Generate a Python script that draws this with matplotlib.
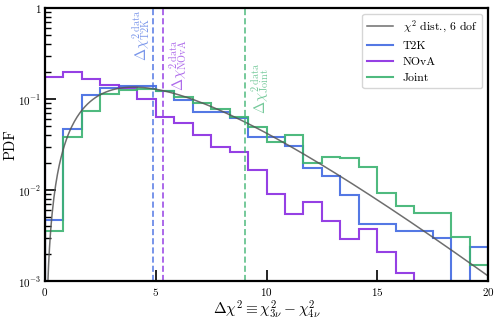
import numpy as np
import matplotlib
matplotlib.use('Agg')
import matplotlib.pyplot as plt
from math import gamma

plt.rcParams['font.family'] = 'serif'
plt.rcParams['font.serif'] = ['cmr10', 'DejaVu Serif']
plt.rcParams['mathtext.fontset'] = 'cm'
plt.rcParams['axes.formatter.use_mathtext'] = True

# 24 bins between 0 and 20
bin_edges = np.linspace(0, 20, 25)

t2k_pdf = [0.00468, 0.0474, 0.1106, 0.131, 0.1407, 0.139, 0.124, 0.0975,
           0.0725, 0.072, 0.0614, 0.0382, 0.0378, 0.0305, 0.01745, 0.01425,
           0.00881, 0.00418, 0.00418, 0.00357, 0.00357, 0.00294, 0.0, 0.00236]
nova_pdf = [0.176, 0.1965, 0.166, 0.1436, 0.131, 0.0993, 0.0639, 0.0549,
            0.0407, 0.0297, 0.026, 0.0166, 0.0091, 0.00542, 0.00742, 0.0046,
            0.0029, 0.0037, 0.00207, 0.00123, 0.0, 0.0, 0.0, 0.0]
joint_pdf = [0.00357, 0.0382, 0.0738, 0.1135, 0.127, 0.128, 0.1215, 0.1065,
             0.0897, 0.077, 0.0629, 0.0492, 0.034, 0.0402, 0.0197, 0.0232,
             0.0226, 0.0179, 0.0092, 0.00662, 0.00559, 0.00559, 0.00302, 0.00151]

# observed delta chi2 in data
data_dchi2 = {'T2K': 4.89, 'NOvA': 5.31, 'Joint': 9.03}
dof = 6

colors = {'T2K': '#4169E1', 'NOvA': '#8A2BE2', 'Joint': '#3CB371'}
hists = {'T2K': t2k_pdf, 'NOvA': nova_pdf, 'Joint': joint_pdf}

fig = plt.figure(figsize=(4.99, 3.23), dpi=100)
ax = fig.add_axes([0.0902, 0.130, 0.888, 0.845])

x = np.linspace(0.001, 20, 500)
chi2 = x**(dof / 2 - 1) * np.exp(-x / 2) / (2**(dof / 2) * gamma(dof / 2))
ax.plot(x, chi2, color='#555555', lw=1.1, alpha=0.85, label=r'$\chi^2$ dist., 6 dof')

for name in ['T2K', 'NOvA', 'Joint']:
    ax.stairs(hists[name], bin_edges, color=colors[name], lw=1.5, alpha=0.9,
              label=name)

# data lines and labels
txt_pos = {
    'T2K': (data_dchi2['T2K'] - 0.05, 0.96, 'right', 'top'),
    'NOvA': (data_dchi2['NOvA'] + 0.2, 0.45, 'left', 'top'),
    'Joint': (data_dchi2['Joint'] + 0.2, 0.25, 'left', 'top'),
}
for name in ['T2K', 'NOvA', 'Joint']:
    ax.axvline(data_dchi2[name], color=colors[name], ls=(0, (4, 2)), lw=1.1, alpha=0.9)
    tx, ty, ha, va = txt_pos[name]
    ax.text(tx, ty, r'$\Delta\chi^{2\;\mathrm{data}}_{\mathrm{%s}}$' % name,
            rotation=90, ha=ha, va=va, color=colors[name], alpha=0.7, fontsize=10.5)

ax.set_yscale('log')
ax.set_xlim(0, 20)
ax.set_ylim(1e-3, 1)
ax.set_xticks([0, 5, 10, 15, 20])
ax.set_xticklabels(['$0$', '$5$', '$10$', '$15$', '$20$'])
ax.set_yticks([1e-3, 1e-2, 1e-1, 1])
ax.set_yticklabels(['$10^{-3}$', '$10^{-2}$', '$10^{-1}$', '$1$'])

ax.tick_params(which='both', direction='in', labelsize=8)
ax.tick_params(which='major', length=8, width=1.2)
ax.tick_params(which='minor', length=4.5, width=1.0)
ax.tick_params(axis='y', pad=2.5)
ax.minorticks_on()
ax.xaxis.set_minor_locator(matplotlib.ticker.NullLocator())
for sp in ax.spines.values():
    sp.set_linewidth(1.6)

ax.set_xlabel(r'$\Delta\chi^2 \equiv \chi^2_{3\nu} - \chi^2_{4\nu}$', fontsize=11, labelpad=1)
ax.set_ylabel('PDF', fontsize=10.5)
ax.yaxis.set_label_coords(-0.062, 0.5)

ax.legend(loc='upper right', fontsize=8.5, handlelength=2.2, borderaxespad=0.5)

fig.savefig('out.png', dpi=100)
